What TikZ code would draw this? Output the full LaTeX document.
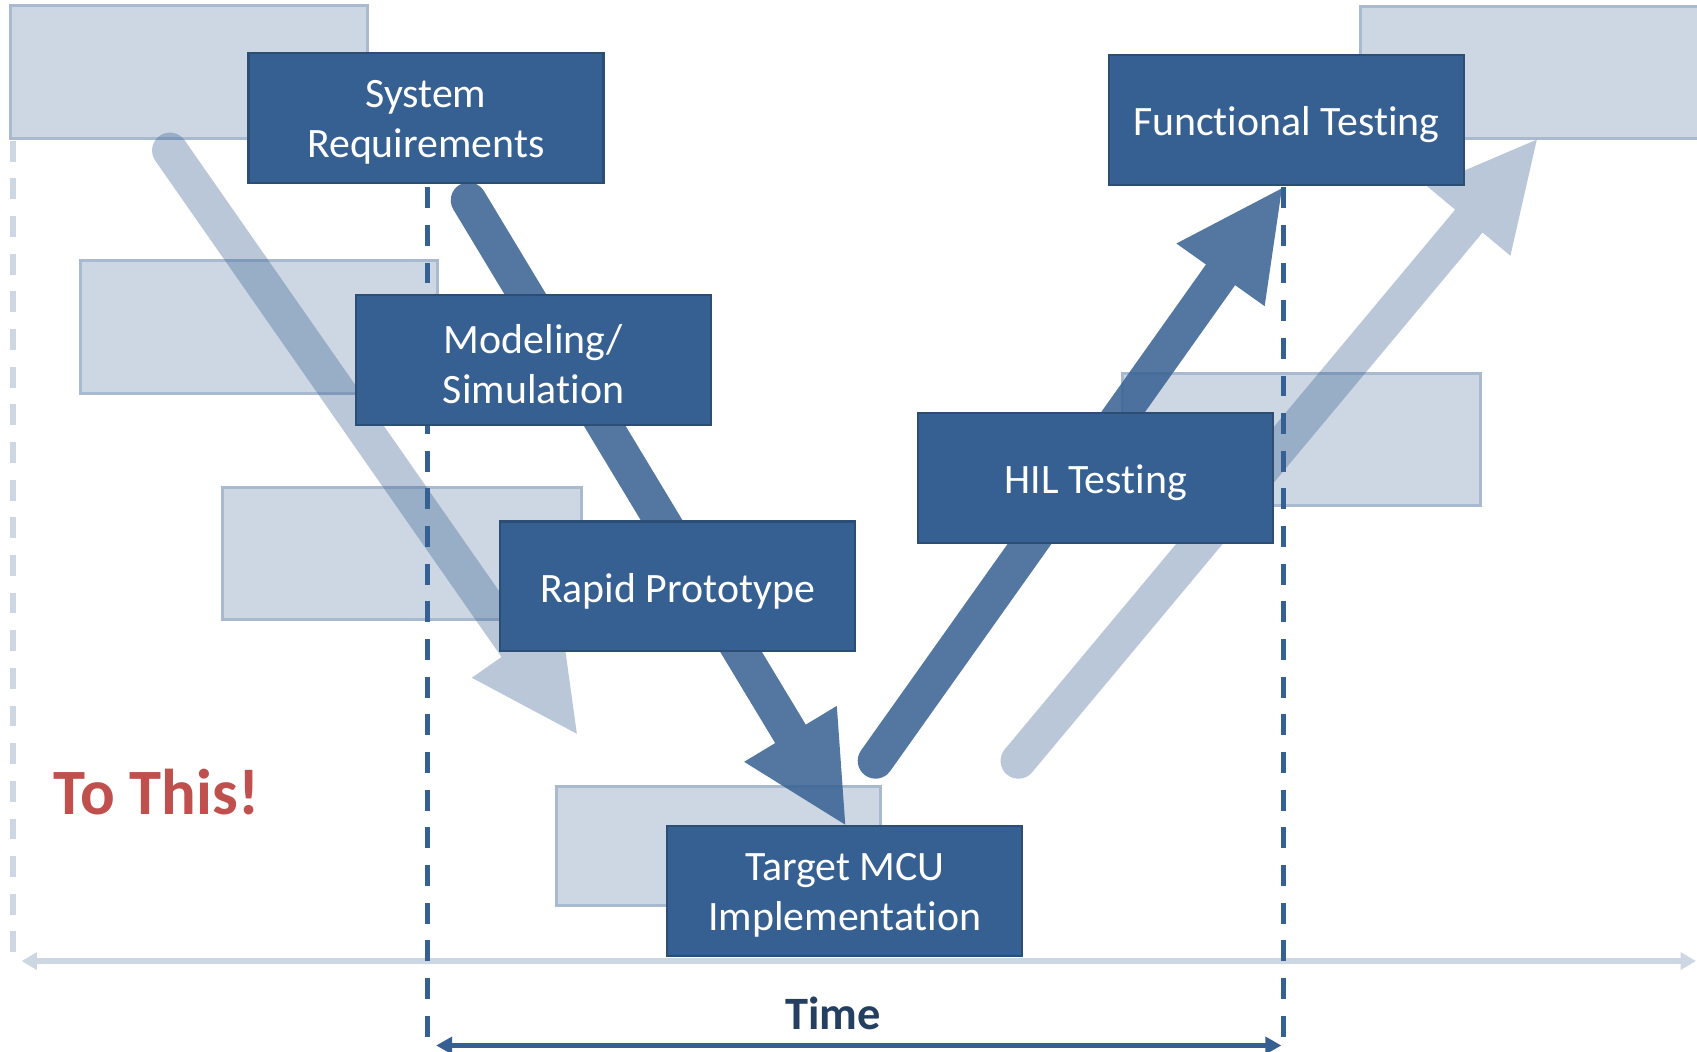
\documentclass[tikz,border=0pt]{standalone}
\usepackage{fontspec}
\setmainfont{Carlito}[Ligatures={NoCommon,NoContextual,NoRequired},Contextuals=NoAlternate]
\usetikzlibrary{arrows.meta}
\definecolor{boxblue}{HTML}{376092}
\definecolor{boxedge}{HTML}{2C4D74}
\definecolor{ghostfill}{HTML}{CDD7E3}
\definecolor{ghostedge}{HTML}{A9BAD0}
\definecolor{tored}{HTML}{C0504D}
\definecolor{timeblue}{HTML}{243F60}
\newdimen\badx
\newdimen\bady
\makeatletter
\newcommand\bigarrow[3]{%
  \pgfmathanglebetweenpoints{\pgfpointanchor{#1}{center}}{\pgfpointanchor{#2}{center}}%
  \edef\baang{\pgfmathresult}%
  \pgfpointdiff{\pgfpointanchor{#1}{center}}{\pgfpointanchor{#2}{center}}%
  \badx=\pgf@x \bady=\pgf@y
  \pgfmathveclen{\badx}{\bady}%
  \pgfmathsetmacro\balen{\pgfmathresult/0.284528}%
  \fill[#3, shift={(#1)}, rotate=\baang, x=0.1mm, y=0.1mm]
    (0,16.5) -- (\balen-98,16.5) -- (\balen-98,50) -- (\balen,0)
    -- (\balen-98,-50) -- (\balen-98,-16.5) -- (0,-16.5)
    arc[start angle=-90, end angle=-270, radius=16.5] -- cycle;
}
\makeatother
\tikzset{
  mainbox/.style={draw=boxedge, line width=0.6pt, fill=boxblue,
    minimum width=3.28cm, minimum height=1.20cm, inner sep=0pt},
  boxtext/.style={text=white, align=center, inner sep=0pt, yshift=-1.2pt,
    font=\fontsize{11}{13.2}\selectfont},
  ghost/.style={draw=ghostedge, line width=0.8pt, fill=ghostfill, inner sep=0pt},
  darkdash/.style={draw=boxblue, line width=1.3pt, dash pattern=on 5.5pt off 4.4pt},
  lightdash/.style={draw=ghostfill, line width=1.4pt, dash pattern=on 5.5pt off 4.4pt},
  lightaxis/.style={draw=ghostfill, line width=1.4pt,
    {Triangle[length=4pt,width=4.4pt]}-{Triangle[length=4pt,width=4.4pt]}},
  timeaxis/.style={draw=boxblue, line width=1.4pt,
    {Triangle[length=4.2pt,width=4.4pt]}-{Triangle[length=4.2pt,width=4.4pt]}},
  darkarrow/.style={fill=boxblue, fill opacity=0.85},
  lightarrow/.style={fill=boxblue, fill opacity=0.35},
}
\begin{document}
\begin{tikzpicture}[x=0.1mm, y=-0.1mm]
\useasboundingbox (0,0) rectangle (1568,972);
\clip (0,0) rectangle (1568,972);
\fill[white] (0,0) rectangle (1568,972);

% ghost boxes
\node[ghost, minimum width=3.30cm, minimum height=1.225cm] (g1) at (175,66.5) {};
\node[ghost, minimum width=3.30cm, minimum height=1.23cm] (g2) at (239,302.5) {};
\node[ghost, minimum width=3.31cm, minimum height=1.22cm] (g3) at (371.5,511) {};
\node[ghost, minimum width=3.00cm, minimum height=1.10cm] (g4) at (664,782) {};
\node[ghost, minimum width=3.31cm, minimum height=1.22cm] (g5) at (1202.5,406) {};
\node[ghost, minimum width=3.33cm, minimum height=1.22cm] (g6) at (1423.5,67) {};

% light guides
\coordinate (l1t) at (12,130);
\coordinate (l1b) at (12,886);
\draw[lightdash] (l1t) -- (l1b);
\coordinate (ax1) at (20,888);
\coordinate (ax2) at (1567,888);
\draw[lightaxis] (ax1) -- (ax2);

% light arrows
\coordinate (bs) at (157,139);
\coordinate (be) at (533,678);
\coordinate (ds) at (941,703);
\coordinate (de) at (1420,129);
\bigarrow{bs}{be}{lightarrow}
\bigarrow{ds}{de}{lightarrow}

% dark dashed lines
\coordinate (d1t) at (395,173);
\coordinate (d1b) at (395,972);
\coordinate (d2t) at (1186,173);
\coordinate (d2b) at (1186,964);
\draw[darkdash] (d1t) -- (d1b);
\draw[darkdash] (d2t) -- (d2b);

% dark arrows
\coordinate (as) at (433,185);
\coordinate (ae) at (781,762);
\coordinate (cs) at (809,703);
\coordinate (ce) at (1184.5,174);
\bigarrow{as}{ae}{darkarrow}
\bigarrow{cs}{ce}{darkarrow}

% main boxes
\node[mainbox, label={[boxtext]center:{System\\Requirements}}] (sr) at (393.5,109) {};
\node[mainbox, label={[boxtext]center:{Modeling/\\Simulat\kern0pt ion}}] (ms) at (493,332.5) {};
\node[mainbox, label={[boxtext]center:{Rapid Prototype}}] (rp) at (626,541.8) {};
\node[mainbox, label={[boxtext]center:{Target MCU\\Implementat\kern0pt ion}}] (tm) at (780.6,823.2) {};
\node[mainbox, label={[boxtext]center:{HIL Test\kern0pt ing}}] (hil) at (1012.5,441.5) {};
\node[mainbox, label={[boxtext]center:{Funct\kern0pt ional Test\kern0pt ing}}] (ft) at (1188.5,111) {};

% labels
\node[font=\bfseries\fontsize{17}{20}\selectfont, text=tored, anchor=base west, inner sep=0pt] (tothis) at (49,753) {To This!};
\node[font=\bfseries\fontsize{12.2}{14}\selectfont, text=timeblue, anchor=base, inner sep=0pt] (time) at (770,951) {Time};
\coordinate (t1) at (403,966);
\coordinate (t2) at (1184,966);
\draw[timeaxis] (t1) -- (t2);
\end{tikzpicture}
\end{document}
